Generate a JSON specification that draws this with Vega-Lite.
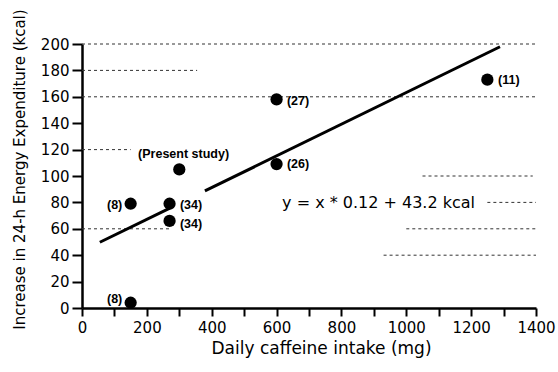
{
  "$schema": "https://vega.github.io/schema/vega-lite/v6.json",
  "width": 454,
  "height": 264,
  "autosize": "none",
  "padding": {"left": 82, "top": 44, "right": 22, "bottom": 64},
  "background": "white",
  "config": {
    "view": {"stroke": null},
    "axis": {
      "domainColor": "black", "domainWidth": 2.5,
      "tickColor": "black", "tickWidth": 2, 
      "labelColor": "black", "labelFont": "DejaVu Sans", "labelFontSize": 15,
      "titleColor": "black", "titleFont": "DejaVu Sans", "titleFontWeight": "normal",
      "grid": false, "labelFlush": false, "labelOverlap": false
    }
  },
  "encoding": {
    "x": {
      "field": "x", "type": "quantitative",
      "scale": {"domain": [0, 1400], "nice": false, "zero": false},
      "axis": {
        "values": [0,100,200,300,400,500,600,700,800,900,1000,1100,1200,1300,1400],
        "format": "d",
        "labelExpr": "datum.value % 200 === 0 ? datum.label : ''",
        "tickSize": 8, "labelPadding": 4,
        "title": "Daily caffeine intake (mg)", "titleFontSize": 17,
        "titleX": 239, "titleY": 45, "titleAlign": "center", "titleBaseline": "alphabetic"
      }
    },
    "y": {
      "field": "y", "type": "quantitative",
      "scale": {"domain": [0, 200], "nice": false, "zero": false},
      "axis": {
        "values": [0,20,40,60,80,100,120,140,160,180,200],
        "format": "d",
        "tickSize": 10, "labelPadding": 3,
        "title": "Increase in 24-h Energy Expenditure (kcal)", "titleFontSize": 15,
        "titleAngle": -90, "titleX": -63, "titleY": 125, "titleAlign": "center", "titleBaseline": "middle"
      }
    }
  },
  "layer": [
    {
      "data": {"values": [
        {"y": 200, "x": 0, "xend": 1400},
        {"y": 180, "x": 0, "xend": 355},
        {"y": 160, "x": 0, "xend": 1400},
        {"y": 120, "x": 0, "xend": 150},
        {"y": 100, "x": 1050, "xend": 1390},
        {"y": 80, "x": 1250, "xend": 1400},
        {"y": 60, "x": 0, "xend": 277},
        {"y": 60, "x": 1000, "xend": 1400},
        {"y": 40, "x": 930, "xend": 1400}
      ]},
      "mark": {"type": "rule", "color": "#333", "strokeWidth": 1, "strokeDash": [3, 3]},
      "encoding": {"x2": {"field": "xend"}}
    },
    {
      "data": {"values": [
        {"seg": "a", "x": 55, "y": 49.8},
        {"seg": "a", "x": 271, "y": 75.7},
        {"seg": "b", "x": 379, "y": 88.7},
        {"seg": "b", "x": 1289, "y": 197.9}
      ]},
      "mark": {"type": "line", "color": "black", "strokeWidth": 3},
      "encoding": {"detail": {"field": "seg"}}
    },
    {
      "data": {"values": [
        {"x": 150, "y": 79},
        {"x": 150, "y": 4},
        {"x": 270, "y": 79},
        {"x": 270, "y": 66},
        {"x": 300, "y": 105},
        {"x": 600, "y": 158},
        {"x": 600, "y": 109},
        {"x": 1250, "y": 173}
      ]},
      "mark": {"type": "point", "filled": true, "color": "black", "opacity": 1, "size": 150}
    },
    {
      "data": {"values": [
        {"x": 77, "y": 78, "text": "(8)"},
        {"x": 77, "y": 7, "text": "(8)"},
        {"x": 302, "y": 78, "text": "(34)"},
        {"x": 302, "y": 64, "text": "(34)"},
        {"x": 173, "y": 117, "text": "(Present study)"},
        {"x": 632, "y": 157, "text": "(27)"},
        {"x": 632, "y": 109, "text": "(26)"},
        {"x": 1283, "y": 172.7, "text": "(11)"}
      ]},
      "mark": {"type": "text", "align": "left", "baseline": "middle", "font": "Liberation Sans", "fontWeight": "bold", "fontSize": 12.5, "color": "black"},
      "encoding": {"text": {"field": "text"}}
    },
    {
      "data": {"values": [
        {"x": 617, "y": 79.5, "text": "y = x * 0.12 + 43.2 kcal"}
      ]},
      "mark": {"type": "text", "align": "left", "baseline": "middle", "font": "DejaVu Sans", "fontSize": 16, "color": "black"},
      "encoding": {"text": {"field": "text"}}
    }
  ]
}
